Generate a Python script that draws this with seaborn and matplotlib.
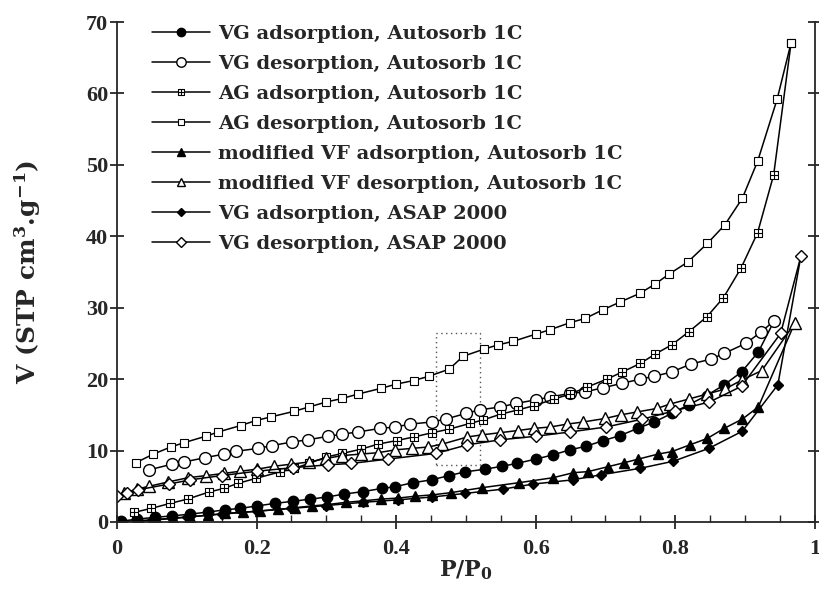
import numpy as np
import pandas as pd
import matplotlib
matplotlib.use("Agg")
import matplotlib.pyplot as plt
import seaborn as sns
from matplotlib.path import Path
from matplotlib.patches import Rectangle

# ---------------- data ----------------
vg_ads_x = [0.005, 0.029, 0.054, 0.079, 0.105, 0.131, 0.155, 0.176, 0.201, 0.226, 0.252, 0.277, 0.301,
            0.325, 0.352, 0.38, 0.399, 0.424, 0.451, 0.476, 0.498, 0.528, 0.552, 0.573, 0.6, 0.625, 0.649,
            0.672, 0.697, 0.721, 0.746, 0.77, 0.795, 0.819, 0.845, 0.87, 0.895, 0.919, 0.942]
vg_ads_v = [0.1, 0.4, 0.65, 0.85, 1.1, 1.4, 1.7, 1.9, 2.25, 2.6, 2.9, 3.2, 3.5, 3.9, 4.25, 4.7, 4.95, 5.5,
            5.9, 6.5, 7.0, 7.4, 7.8, 8.2, 8.8, 9.4, 10.1, 10.6, 11.4, 12.1, 13.1, 14.0, 15.2, 16.4, 17.7,
            19.2, 21.0, 23.8, 28.2]

vg_des_x = [0.942, 0.923, 0.901, 0.87, 0.851, 0.822, 0.795, 0.77, 0.75, 0.723, 0.697, 0.67, 0.649, 0.621,
            0.6, 0.572, 0.549, 0.52, 0.5, 0.471, 0.451, 0.42, 0.399, 0.377, 0.345, 0.323, 0.303, 0.273,
            0.251, 0.222, 0.202, 0.171, 0.153, 0.126, 0.096, 0.079, 0.046]
vg_des_v = [28.2, 26.6, 25.0, 23.6, 22.8, 22.1, 21.0, 20.4, 20.0, 19.4, 18.8, 18.2, 18.0, 17.5, 17.1, 16.6,
            16.1, 15.7, 15.2, 14.4, 14.0, 13.7, 13.3, 13.1, 12.6, 12.3, 12.0, 11.5, 11.2, 10.7, 10.3, 9.9,
            9.5, 9.0, 8.4, 8.1, 7.3]

ag_ads_x = [0.025, 0.049, 0.076, 0.101, 0.132, 0.153, 0.173, 0.199, 0.233, 0.254, 0.275, 0.3, 0.323, 0.35,
            0.374, 0.401, 0.425, 0.452, 0.476, 0.506, 0.525, 0.55, 0.575, 0.598, 0.626, 0.649, 0.674,
            0.702, 0.724, 0.75, 0.771, 0.795, 0.819, 0.845, 0.869, 0.894, 0.918, 0.941, 0.966]
ag_ads_v = [1.36, 1.9, 2.6, 3.2, 4.2, 4.7, 5.4, 6.1, 7.0, 7.5, 8.2, 9.1, 9.6, 10.2, 10.9, 11.4, 11.9, 12.5,
            13.0, 13.8, 14.3, 15.1, 15.7, 16.3, 17.2, 17.9, 18.9, 20.0, 21.0, 22.2, 23.5, 24.8, 26.6, 28.7,
            31.4, 35.5, 40.5, 48.6, 67.1]

ag_des_x = [0.966, 0.946, 0.918, 0.896, 0.871, 0.846, 0.818, 0.791, 0.771, 0.749, 0.721, 0.696, 0.671,
            0.649, 0.62, 0.6, 0.568, 0.546, 0.526, 0.496, 0.476, 0.447, 0.425, 0.4, 0.378, 0.345, 0.323,
            0.3, 0.275, 0.254, 0.22, 0.199, 0.177, 0.145, 0.127, 0.096, 0.077, 0.052, 0.027]
ag_des_v = [67.1, 59.2, 50.5, 45.3, 41.6, 39.0, 36.4, 34.7, 33.3, 32.0, 30.8, 29.7, 28.5, 27.9, 26.9, 26.3,
            25.3, 24.8, 24.2, 23.2, 21.4, 20.4, 19.8, 19.3, 18.7, 17.9, 17.3, 16.8, 16.1, 15.5, 14.7, 14.2,
            13.5, 12.6, 12.0, 11.1, 10.5, 9.5, 8.3]

vf_ads_x = [0.01, 0.033, 0.057, 0.08, 0.105, 0.13, 0.155, 0.18, 0.205, 0.23, 0.255, 0.28, 0.303, 0.328,
            0.352, 0.378, 0.403, 0.427, 0.452, 0.478, 0.523, 0.576, 0.625, 0.654, 0.675, 0.704, 0.727,
            0.747, 0.775, 0.795, 0.821, 0.846, 0.87, 0.896, 0.919, 0.971]
vf_ads_v = [0.0, 0.1, 0.3, 0.5, 0.7, 0.95, 1.2, 1.35, 1.55, 1.75, 2.0, 2.25, 2.45, 2.75, 2.95, 3.2, 3.35,
            3.6, 3.8, 4.1, 4.8, 5.5, 6.2, 6.9, 7.05, 7.75, 8.3, 8.8, 9.5, 9.85, 10.8, 11.7, 13.1, 14.4,
            16.1, 27.8]

vf_des_x = [0.971, 0.924, 0.896, 0.871, 0.845, 0.819, 0.792, 0.774, 0.745, 0.722, 0.7, 0.668, 0.645,
            0.621, 0.597, 0.574, 0.549, 0.523, 0.502, 0.466, 0.446, 0.422, 0.399, 0.374, 0.349, 0.323,
            0.3, 0.275, 0.25, 0.225, 0.201, 0.176, 0.153, 0.128, 0.102, 0.073, 0.046, 0.028, 0.01]
vf_des_v = [27.8, 21.2, 19.9, 18.6, 17.9, 17.2, 16.5, 15.9, 15.4, 15.0, 14.5, 14.0, 13.7, 13.3, 13.1,
            12.8, 12.5, 12.2, 11.9, 10.9, 10.5, 10.3, 10.1, 9.7, 9.5, 9.3, 8.9, 8.4, 8.1, 7.8, 7.4, 7.1,
            6.8, 6.5, 6.2, 5.6, 5.0, 4.6, 4.0]

asap_ads_x = [0.0, 0.05, 0.1, 0.15, 0.2, 0.25, 0.3, 0.352, 0.403, 0.452, 0.499, 0.553, 0.596, 0.653,
              0.693, 0.749, 0.797, 0.848, 0.896, 0.947, 0.98]
asap_ads_v = [0.0, 0.3, 0.7, 1.1, 1.5, 1.9, 2.3, 2.75, 3.1, 3.5, 4.0, 4.6, 5.3, 5.9, 6.6, 7.5, 8.5, 10.3,
              12.7, 19.2, 37.2]

asap_des_x = [0.98, 0.951, 0.895, 0.849, 0.8, 0.753, 0.701, 0.649, 0.6, 0.549, 0.502, 0.457, 0.388,
              0.336, 0.302, 0.252, 0.2, 0.15, 0.105, 0.074, 0.03, 0.014, 0.0]
asap_des_v = [37.2, 26.4, 19.0, 16.8, 15.6, 14.4, 13.3, 12.6, 12.0, 11.5, 10.8, 9.6, 8.8, 8.2, 8.0, 7.6,
              7.1, 6.5, 5.9, 5.3, 4.5, 4.1, 3.7]

labels = ["VG adsorption, Autosorb 1C", "VG desorption, Autosorb 1C",
          "AG adsorption, Autosorb 1C", "AG desorption, Autosorb 1C",
          "modified VF adsorption, Autosorb 1C", "modified VF desorption, Autosorb 1C",
          "VG adsorption, ASAP 2000", "VG desorption, ASAP 2000"]

x_ticks = [0, 0.2, 0.4, 0.6, 0.8, 1]
x_ticklabels = ["0", "0.2", "0.4", "0.6", "0.8", "1"]
y_ticks = [0, 10, 20, 30, 40, 50, 60, 70]

# ---------------- style ----------------
sns.set_style("ticks")
plt.rcParams["font.family"] = ["Liberation Serif", "DejaVu Serif"]
plt.rcParams["font.weight"] = "bold"
plt.rcParams["mathtext.fontset"] = "custom"
plt.rcParams["mathtext.rm"] = "DejaVu Serif:bold"
plt.rcParams["mathtext.it"] = "DejaVu Serif:bold"
plt.rcParams["mathtext.bf"] = "DejaVu Serif:bold"

# square with a cross inside
sq_plus = Path(
    [(-1, -1), (1, -1), (1, 1), (-1, 1), (-1, -1), (0, -1), (0, 1), (-1, 0), (1, 0)],
    [Path.MOVETO, Path.LINETO, Path.LINETO, Path.LINETO, Path.CLOSEPOLY,
     Path.MOVETO, Path.LINETO, Path.MOVETO, Path.LINETO])

series = [
    (vg_ads_x, vg_ads_v, dict(marker="o", markersize=7.5, markerfacecolor="black")),
    (vg_des_x, vg_des_v, dict(marker="o", markersize=8.5, markerfacecolor="white")),
    (ag_ads_x, ag_ads_v, dict(marker=sq_plus, markersize=5.5, markerfacecolor="white", markeredgewidth=0.8)),
    (ag_des_x, ag_des_v, dict(marker="s", markersize=5.5, markerfacecolor="white", markeredgewidth=0.8)),
    (vf_ads_x, vf_ads_v, dict(marker="^", markersize=7.5, markerfacecolor="black")),
    (vf_des_x, vf_des_v, dict(marker="^", markersize=8, markerfacecolor="white")),
    (asap_ads_x, asap_ads_v, dict(marker="D", markersize=5.5, markerfacecolor="black")),
    (asap_des_x, asap_des_v, dict(marker="D", markersize=6, markerfacecolor="white")),
]

fig = plt.figure(figsize=(8.19, 5.89), dpi=100)
ax = fig.add_axes([0.1429, 0.1138, 0.852, 0.8488])

for (xs, vs, st), lab in zip(series, labels):
    df = pd.DataFrame({"x": xs, "v": vs})
    sns.lineplot(data=df, x="x", y="v", ax=ax, sort=False, estimator=None, color="black",
                 linewidth=1.1, markeredgecolor="black", markeredgewidth=st.pop("markeredgewidth", 1.0),
                 label=lab, **st)

ax.add_patch(Rectangle((0.457, 8.0), 0.063, 18.5, fill=False, linestyle=(0, (1, 2.5)),
                       linewidth=1.0, edgecolor="#555555"))

ax.set_xlim(0, 1)
ax.set_ylim(0, 70)
ax.set_xticks(x_ticks)
ax.set_xticklabels(x_ticklabels)
ax.set_yticks(y_ticks)
ax.set_xticks(np.arange(0.05, 1.0, 0.05), minor=True)
ax.tick_params(axis="both", which="major", direction="inout", length=10, width=1.3,
               labelsize=16, right=True, labelright=False)
ax.tick_params(axis="x", which="major", pad=7)
ax.tick_params(axis="y", which="major", pad=1.5)
ax.tick_params(axis="x", which="minor", direction="in", length=5, width=1.0)
ax.tick_params(axis="y", which="minor", left=False, right=False)
for lab in ax.get_xticklabels() + ax.get_yticklabels():
    lab.set_fontweight("bold")
    lab.set_family("Liberation Serif")

ax.spines["top"].set_visible(False)
for s in ["left", "bottom", "right"]:
    ax.spines[s].set_linewidth(1.3)

ax.set_xlabel(r"P/P$_{0}$", fontsize=16, fontweight="bold", family="DejaVu Serif", labelpad=0)
ax.set_ylabel(r"V (STP cm$^{3}$.g$^{-1}$)", fontsize=18, fontweight="bold", family="DejaVu Serif")
ax.yaxis.set_label_coords(-0.106, 0.5)

leg = ax.legend(loc="upper left", bbox_to_anchor=(0.1856, 0.958), bbox_transform=fig.transFigure,
                frameon=False, handlelength=3.0, handletextpad=0.4, markerscale=0.8,
                labelspacing=0.62, borderaxespad=0, borderpad=0,
                prop={"family": "DejaVu Serif", "weight": "bold", "size": 14})

fig.savefig("out.png", dpi=100, facecolor="white")
